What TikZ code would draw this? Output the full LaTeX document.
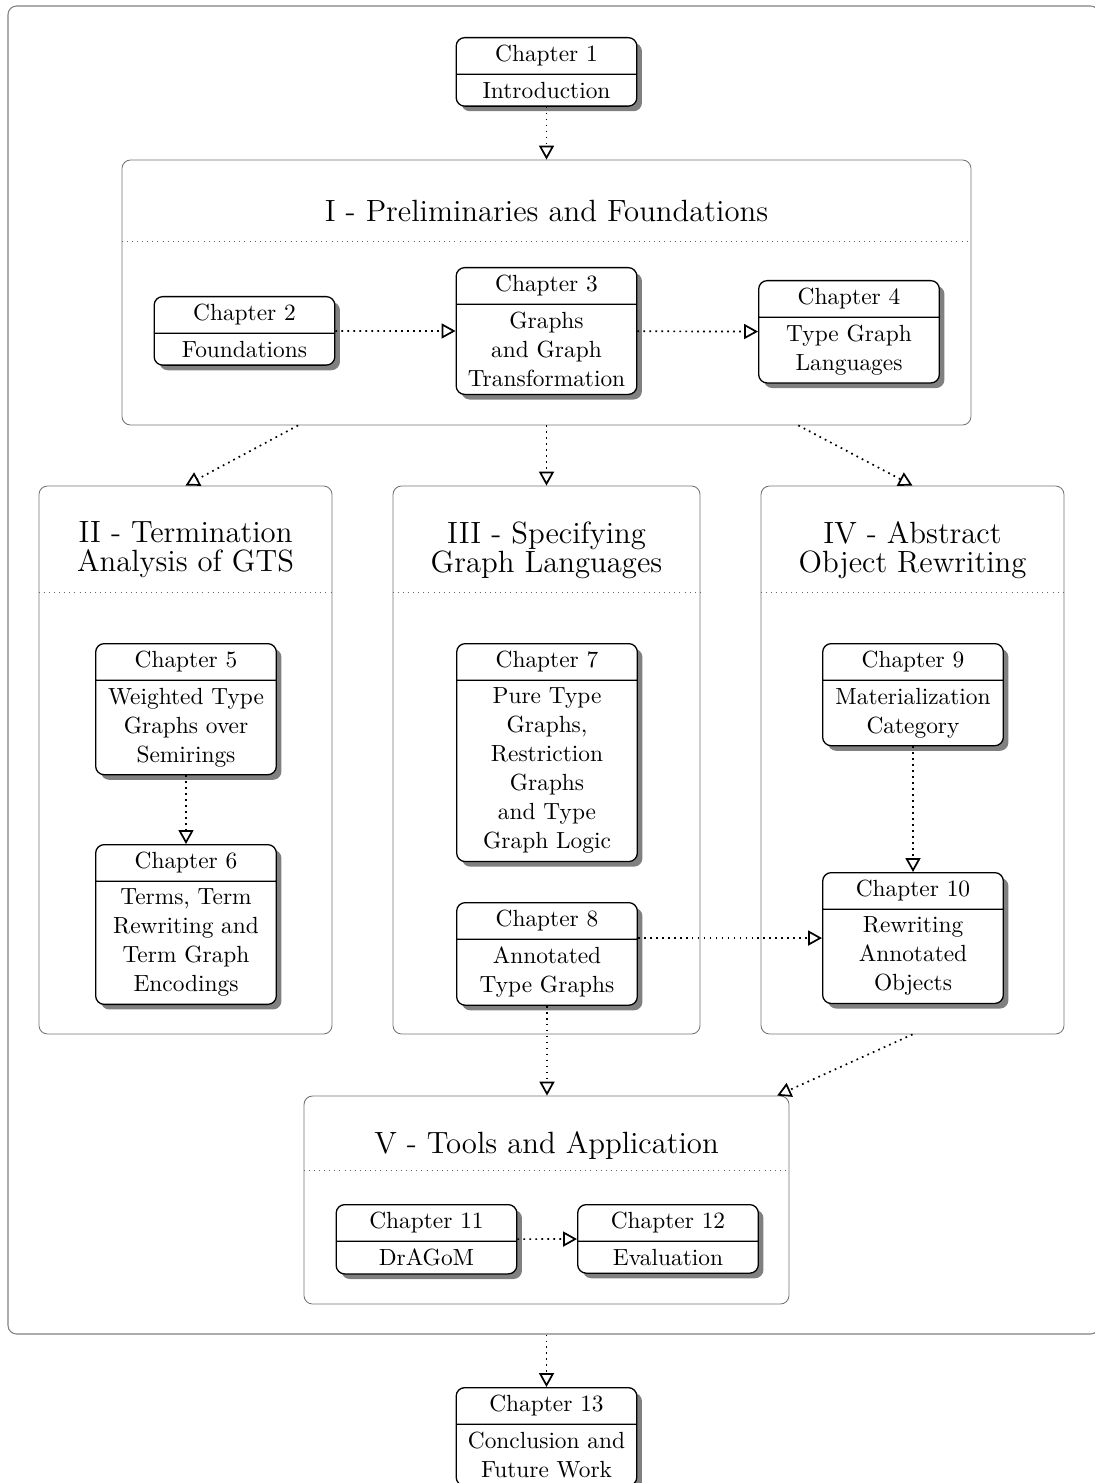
\documentclass[tikz,border=0pt]{standalone}
\usetikzlibrary{shapes.multipart,shadows,arrows.meta,fit,calc}
\newcommand\chfont{\fontsize{10.95}{13.6}\selectfont}
\newcommand\ptfont{\fontsize{14.4}{13.6}\selectfont}
\begin{document}
\begin{tikzpicture}[x=0.4686pt,y=-0.4686pt,
  chap/.style={rectangle split, rectangle split parts=2, draw=black, semithick, rounded corners,
    fill=white, drop shadow={fill=black!50, opacity=1, shadow xshift=2.4pt, shadow yshift=-2.4pt},
    text width=78pt, align=center, font=\chfont, anchor=north},
  partbox/.style={draw=black!55, rounded corners, inner sep=0pt},
  outerbox/.style={draw=black!50, rounded corners, inner sep=0pt, line width=0.5pt},
  ptitle/.style={font=\ptfont, align=center},
  sepline/.style={draw=black!60, dotted},
  arr/.style={dotted, thick, -{Triangle[open,length=6.5pt,width=7pt]}}]
\useasboundingbox (0,0) rectangle (1094,1483);

% outer frame
\coordinate (OUTa) at (8,6);
\coordinate (OUTb) at (1099,1334);
\node[outerbox, fit=(OUTa)(OUTb)] (OUT) {};

% part frames
\coordinate (PIa) at (122,160);   \coordinate (PIb) at (971,425);
\coordinate (PIIa) at (39,486);   \coordinate (PIIb) at (332,1034);
\coordinate (PIIIa) at (393,486); \coordinate (PIIIb) at (700,1034);
\coordinate (PIVa) at (761,486);  \coordinate (PIVb) at (1064,1034);
\coordinate (PVa) at (304,1096);  \coordinate (PVb) at (789,1304);
\node[partbox, fit=(PIa)(PIb)] (PI) {};
\node[partbox, fit=(PIIa)(PIIb)] (PII) {};
\node[partbox, fit=(PIIIa)(PIIIb)] (PIII) {};
\node[partbox, fit=(PIVa)(PIVb)] (PIV) {};
\node[partbox, fit=(PVa)(PVb)] (PV) {};

% part titles
\node[ptitle] (tI) at (546.5,211) {I - Preliminaries and Foundations};
\node[ptitle] (tII) at (185.5,550) {II - Termination\\Analysis of GTS};
\node[ptitle] (tIII) at (546.5,550) {III - Specifying\\Graph Languages};
\node[ptitle] (tIV) at (912.5,550) {IV - Abstract\\Object Rewriting};
\node[ptitle] (tV) at (546.5,1145) {V - Tools and Application};

% dotted separators under the titles
\draw[sepline] (PI.west |- 0,241) -- (PI.east |- 0,241);
\draw[sepline] (PII.west |- 0,592) -- (PII.east |- 0,592);
\draw[sepline] (PIII.west |- 0,592) -- (PIII.east |- 0,592);
\draw[sepline] (PIV.west |- 0,592) -- (PIV.east |- 0,592);
\draw[sepline] (PV.west |- 0,1170) -- (PV.east |- 0,1170);

% chapters
\node[chap] (ch1) at (546.5,37) {Chapter 1\nodepart{two}Introduction};
\node[chap] (ch2) at (244.5,296) {Chapter 2\nodepart{two}Foundations};
\node[chap] (ch3) at (546.5,267) {Chapter 3\nodepart{two}Graphs\\and Graph\\Transformation};
\node[chap] (ch4) at (849,280) {Chapter 4\nodepart{two}Type Graph\\Languages};
\node[chap] (ch5) at (186,643) {Chapter 5\nodepart{two}Weighted Type\\Graphs over\\Semirings};
\node[chap] (ch6) at (186,844) {Chapter 6\nodepart{two}Terms, Term\\Rewriting and\\Term Graph\\Encodings};
\node[chap] (ch7) at (547,643) {Chapter 7\nodepart{two}Pure Type\\Graphs,\\Restriction\\Graphs\\and Type\\Graph Logic};
\node[chap] (ch8) at (547,902) {Chapter 8\nodepart{two}Annotated\\Type Graphs};
\node[chap] (ch9) at (913,643) {Chapter 9\nodepart{two}Materialization\\Category};
\node[chap] (ch10) at (913,872) {Chapter 10\nodepart{two}Rewriting\\Annotated\\Objects};
\node[chap] (ch11) at (426.5,1204) {Chapter 11\nodepart{two}DrAGoM};
\node[chap] (ch12) at (668,1204) {Chapter 12\nodepart{two}Evaluation};
\node[chap] (ch13) at (546.5,1387) {Chapter 13\nodepart{two}Conclusion and\\Future Work};

% dependencies
\draw[arr] (ch1) -- (PI);
\draw[arr] (ch2) -- (ch3);
\draw[arr] (ch3) -- (ch4);
\draw[arr] (PI) -- (PII.north);
\draw[arr] (PI) -- (PIII);
\draw[arr] (PI) -- (PIV.north);
\draw[arr] (ch5) -- (ch6);
\draw[arr] (ch9) -- (ch10);
\draw[arr] (ch8.east |- ch10.west) -- (ch10.west);
\draw[arr] (ch8.south) -- (ch8.south |- PV.north);
\draw[arr] (PIV.south) -- (PV);
\draw[arr] (ch11) -- (ch12);
\draw[arr] (ch13.north |- OUT.south) -- (ch13.north);
\end{tikzpicture}
\end{document}
